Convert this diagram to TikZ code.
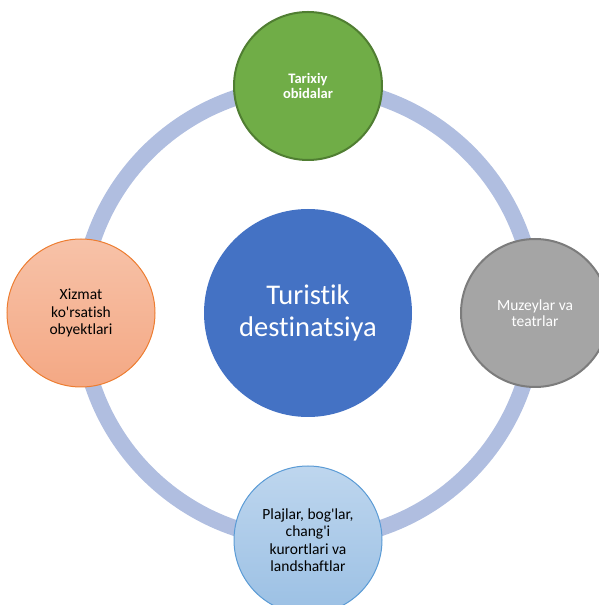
\documentclass[tikz,border=0pt]{standalone}
\usepackage{fontspec}
\setmainfont{Carlito}[Ligatures=NoCommon]
\usepackage{tikz}
\usetikzlibrary{positioning}

\definecolor{ringblue}{RGB}{176,190,224}
\definecolor{centreblue}{RGB}{68,114,196}
\definecolor{leafgreen}{RGB}{112,173,71}
\definecolor{leafdark}{RGB}{80,126,50}
\definecolor{stonegrey}{RGB}{165,165,165}
\definecolor{stonedark}{RGB}{124,124,124}
\definecolor{peachtop}{RGB}{247,194,168}
\definecolor{peachbot}{RGB}{244,168,132}
\definecolor{peachline}{RGB}{237,125,49}
\definecolor{skytop}{RGB}{190,214,238}
\definecolor{skybot}{RGB}{155,192,228}
\definecolor{skyline}{RGB}{91,155,213}

\begin{document}
\begin{tikzpicture}[on grid,x=1pt,y=1pt,node distance=227pt,
    bubble/.style={circle,minimum size=148pt,inner sep=0pt,align=center,
      font=\fontsize{15.5}{17.5}\selectfont},
    ring/.style={draw=ringblue,line width=16pt}]
  \useasboundingbox (0,0) rectangle (599,605);
  \coordinate (ctr) at (308,292);

  % Ring behind everything
  \draw[ring] (ctr) circle (227);

  % Centre circle
  \node[circle,minimum size=208pt,inner sep=0pt,fill=centreblue,text=white,
    align=center,font=\fontsize{28.5}{32}\selectfont] (dest) at (ctr)
    {Turistik\\destinatsiya};

  % Top circle
  \node[bubble,above=of dest,fill=leafgreen,draw=leafdark,line width=2pt,
    text=white,font=\bfseries\fontsize{14.5}{15.5}\selectfont] (hist)
    {Tarixiy\\obidalar};

  % Right circle
  \node[bubble,right=of dest,fill=stonegrey,draw=stonedark,line width=2pt,
    text=white,font=\fontsize{15.5}{16}\selectfont] (muse)
    {Muzeylar va\\teatrlar};

  % Bottom circle
  \node[bubble,below=of dest,top color=skytop,bottom color=skybot,
    draw=skyline,line width=1pt] (land)
    {Plajlar, bog\textquotesingle lar,\\chang\textquotesingle i\\kurortlari va\\landshaftlar};

  % Left circle
  \node[bubble,left=of dest,top color=peachtop,bottom color=peachbot,
    draw=peachline,line width=1pt] (serv)
    {Xizmat\\ko\textquotesingle rsatish\\obyektlari};
\end{tikzpicture}
\end{document}
